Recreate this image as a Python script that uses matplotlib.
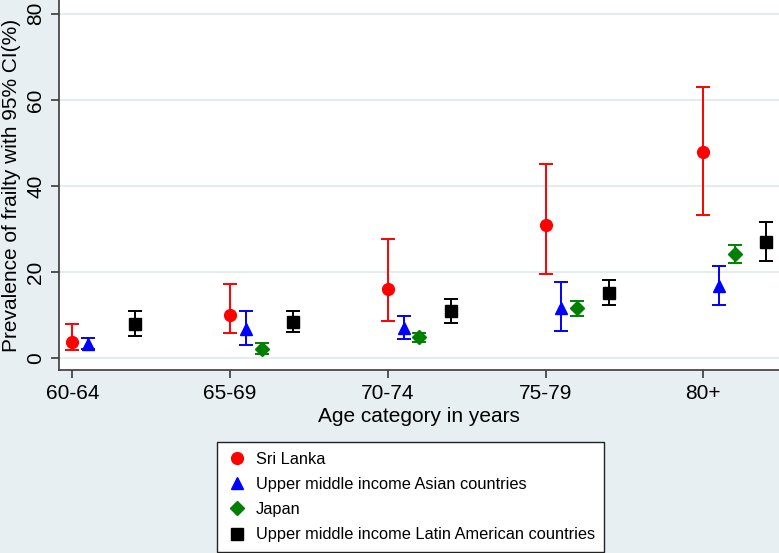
import numpy as np
import matplotlib
matplotlib.use("Agg")
import matplotlib.pyplot as plt
from matplotlib.lines import Line2D

# ==========================
# DATA
# ==========================
age_groups = ["60-64", "65-69", "70-74", "75-79", "80+"]

sri_lanka = [3.8, 10.1, 16.0, 30.8, 47.9]
sri_lanka_lo = [1.8, 5.7, 8.7, 19.4, 33.3]
sri_lanka_hi = [8.0, 17.3, 27.6, 45.1, 63.0]

asia = [3.3, 6.8, 7.0, 11.5, 16.7]
asia_lo = [2.1, 3.0, 4.3, 6.3, 12.3]
asia_hi = [4.6, 10.8, 9.8, 17.7, 21.4]

# no Japan estimate for 60-64
japan_groups = ["65-69", "70-74", "75-79", "80+"]
japan = [2.1, 4.9, 11.5, 24.2]
japan_lo = [0.9, 3.7, 9.8, 22.0]
japan_hi = [3.4, 5.9, 13.3, 26.3]

latam = [7.8, 8.4, 10.8, 15.1, 26.9]
latam_lo = [5.2, 6.0, 8.1, 12.3, 22.5]
latam_hi = [10.9, 11.0, 13.6, 18.2, 31.5]

labels = [
    "Sri Lanka",
    "Upper middle income Asian countries",
    "Japan",
    "Upper middle income Latin American countries",
]

# ==========================
# STYLE
# ==========================
BG = "#e7eff2"
GRID = "#e4ecef"
NARROW = ["Liberation Sans Narrow", "Liberation Sans", "DejaVu Sans"]
plt.rcParams["font.family"] = ["Liberation Sans", "DejaVu Sans"]

series = [
    (age_groups, sri_lanka, sri_lanka_lo, sri_lanka_hi, 0.0, "o", "#ff0000", 8.5),
    (age_groups, asia, asia_lo, asia_hi, 0.1, "^", "#0000ff", 9),
    (japan_groups, japan, japan_lo, japan_hi, 0.2, "D", "#008000", 7.5),
    (age_groups, latam, latam_lo, latam_hi, 0.4, "s", "#000000", 8),
]

fig = plt.figure(figsize=(7.79, 5.53), dpi=100, facecolor=BG)
ax = fig.add_axes([59 / 779, 1 - 370 / 553, 1 - 59 / 779, 370 / 553])
ax.set_facecolor("white")

handles = []
for groups, val, lo, hi, off, mk, col, ms in series:
    x = np.array([age_groups.index(g) for g in groups]) + off
    val = np.array(val)
    err = [val - np.array(lo), np.array(hi) - val]
    ax.errorbar(x, val, yerr=err, fmt=mk, color=col, ecolor=col,
                markersize=ms, elinewidth=1.4, capsize=5, capthick=1.4,
                zorder=3)
    handles.append(Line2D([], [], marker=mk, color=col, linestyle="none",
                          markersize=ms))

ax.set_xlim(-0.085, 4.48)
ax.set_ylim(-2.8, 83.2)
ax.set_xticks(range(len(age_groups)))
ax.set_xticklabels(age_groups, family=NARROW, fontsize=15)
ax.set_yticks([0, 20, 40, 60, 80])
ax.set_yticklabels(["0", "20", "40", "60", "80"], rotation=90, va="center",
                   family=NARROW, fontsize=15)
ax.yaxis.grid(True, color=GRID, linewidth=1.5)
ax.set_axisbelow(True)

for s in ["top", "right"]:
    ax.spines[s].set_visible(False)
for s in ["left", "bottom"]:
    ax.spines[s].set_color("#3a3a3a")
    ax.spines[s].set_linewidth(1.2)
ax.tick_params(axis="both", direction="out", length=6, width=1.2,
               color="#3a3a3a", pad=4)

ax.set_xlabel("Age category in years", family=NARROW, fontsize=15, labelpad=3)
ax.set_ylabel("Prevalence of frailty with 95% CI(%)", family=NARROW,
              fontsize=15, labelpad=4)

leg = fig.legend(handles, labels, loc="upper left",
                 bbox_to_anchor=(217 / 779, 1 - 442 / 553),
                 frameon=True, fancybox=False, fontsize=11.8, framealpha=1,
                 handletextpad=0.55, labelspacing=0.62, borderaxespad=0,
                 handlelength=1.2, borderpad=0.6)
leg.get_frame().set_edgecolor("#222222")
leg.get_frame().set_linewidth(1.0)

fig.savefig("out.png", dpi=100, facecolor=BG)
